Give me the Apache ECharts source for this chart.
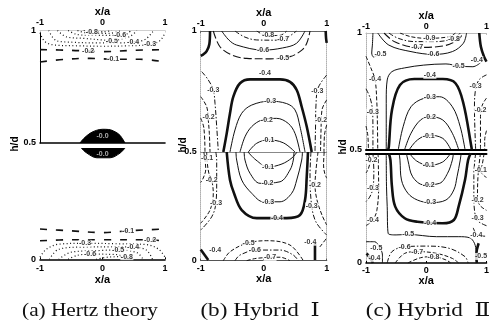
<!DOCTYPE html>
<html>
<head>
<meta charset="utf-8">
<script src="https://cdn.jsdelivr.net/npm/echarts@6/dist/echarts.min.js"></script>
<style>
  html, body { margin: 0; padding: 0; background: #fff; }
  #chart { width: 492px; height: 331px; }
</style>
</head>
<body>
<div id="chart"></div>
<script>
// Pressure contours, each entry: [level, [[x/a, h/d], ...], [label anchors [x/a, h/d]]]
// Upper body (h/d 0.5..1) and lower body (h/d 0..0.5) are kept apart.

const captions = ['(a) Hertz theory', '(b) Hybrid  \u2160', '(c) Hybrid  \u2161'];

const hertzUpper = [
  [-0.1, [[-1, 0.86], [-0.6, 0.872], [-0.2, 0.876], [0.2, 0.872], [0.6, 0.872], [1, 0.86]], [[0.17, 0.871]]],
  [-0.2, [[-1, 0.915], [-0.5, 0.912], [0, 0.906], [0.5, 0.912], [1, 0.915]], [[-0.23, 0.908]]],
  [-0.3, [[-1, 0.99], [-0.92, 0.95], [-0.75, 0.935], [-0.4, 0.932], [0, 0.93], [0.4, 0.932], [0.76, 0.938], [0.92, 0.955], [1, 0.99]], [[0.76, 0.938]]],
  [-0.4, [[-0.86, 1], [-0.74, 0.955], [-0.5, 0.948], [-0.1, 0.945], [0.3, 0.945], [0.49, 0.95], [0.68, 0.96], [0.82, 1]], [[0.49, 0.95]]],
  [-0.5, [[-0.72, 1], [-0.58, 0.972], [-0.3, 0.965], [0, 0.958], [0.15, 0.955], [0.3, 0.962], [0.45, 0.975], [0.55, 1]], [[0.15, 0.955]]],
  [-0.6, [[-0.55, 1], [-0.4, 0.982], [-0.1, 0.978], [0.28, 0.978], [0.4, 0.986], [0.45, 1]], [[0.28, 0.978]]],
  [-0.7, [[-0.4, 1], [-0.25, 0.989], [0.1, 0.987], [0.3, 1]], []],
  [-0.8, [[-0.3, 1], [-0.17, 0.994], [0, 0.994], [0.15, 1]], [[-0.17, 0.993]]]
];
const hertzLower = [
  [-0.1, [[-1, 0.136], [-0.5, 0.128], [0, 0.12], [0.41, 0.128], [1, 0.136]], [[0.41, 0.128]]],
  [-0.2, [[-1, 0.083], [-0.5, 0.088], [0, 0.088], [0.76, 0.088], [1, 0.08]], [[0.76, 0.088]]],
  [-0.3, [[-1, 0.01], [-0.9, 0.045], [-0.7, 0.068], [-0.28, 0.072], [0.2, 0.07], [0.7, 0.066], [0.9, 0.045], [1, 0.01]], [[-0.28, 0.072]]],
  [-0.4, [[-0.85, 0], [-0.7, 0.045], [-0.3, 0.055], [0.2, 0.056], [0.49, 0.054], [0.7, 0.042], [0.8, 0]], [[0.49, 0.054]]],
  [-0.5, [[-0.7, 0], [-0.5, 0.032], [0, 0.04], [0.25, 0.042], [0.55, 0.03], [0.65, 0]], [[0.25, 0.042]]],
  [-0.6, [[-0.55, 0], [-0.4, 0.018], [-0.2, 0.023], [0.2, 0.022], [0.45, 0]], [[-0.2, 0.023]]],
  [-0.8, [[-0.1, 0], [0.1, 0.01], [0.39, 0.012], [0.5, 0]], [[0.39, 0.012]]]
];
// The zero-pressure zone right at the contact, filled
const hertzBlobUpper = [-0.0, [[-0.36, 0.5], [-0.3, 0.52], [-0.2, 0.543], [-0.1, 0.556], [0, 0.561], [0.1, 0.56], [0.2, 0.55], [0.28, 0.534], [0.36, 0.5]], [[0, 0.532]]];
const hertzBlobLower = [-0.0, [[-0.34, 0.5], [-0.25, 0.477], [-0.09, 0.456], [0.12, 0.456], [0.28, 0.477], [0.36, 0.5]], [[0, 0.472]]];

const hybrid1Upper = [
  [-0.8, [[-0.11, 1], [0.05, 0.981], [0.26, 0.982], [0.365, 1]], [[0.07, 0.982]]],
  [-0.7, [[-0.456, 1], [-0.3, 0.975], [-0.11, 0.963], [0.2, 0.962], [0.365, 0.972], [0.52, 1]], [[0.31, 0.968]]],
  [-0.6, [[-0.667, 1], [-0.55, 0.962], [-0.43, 0.942], [-0.006, 0.921], [0.3, 0.93], [0.52, 0.949], [0.656, 1]], [[-0.01, 0.921]]],
  [-0.5, [[-0.8, 1], [-0.694, 0.935], [-0.5, 0.9], [-0.27, 0.887], [0.1, 0.885], [0.417, 0.894], [0.6, 0.92], [0.683, 0.949], [0.735, 1]], [[0.31, 0.89]]],
  [-0.4, [[-0.852, 1], [-0.863, 0.945], [-0.905, 0.917], [-0.96, 0.903], [-1, 0.898]], []],
  [-0.4, [[0.984, 1], [0.99, 0.97], [1, 0.951]], []],
  [-0.4, [[-0.641, 0.5], [-0.587, 0.577], [-0.535, 0.66], [-0.482, 0.729], [-0.376, 0.784], [-0.217, 0.8], [0.259, 0.8], [0.417, 0.79], [0.524, 0.756], [0.603, 0.687], [0.683, 0.605], [0.762, 0.5]], [[0.02, 0.826]]],
  [-0.3, [[-0.535, 0.5], [-0.456, 0.591], [-0.349, 0.66], [-0.19, 0.694], [0.1, 0.71], [0.365, 0.7], [0.497, 0.674], [0.576, 0.605], [0.656, 0.5]], [[0.1, 0.71]]],
  [-0.2, [[-0.376, 0.5], [-0.297, 0.563], [-0.19, 0.605], [-0.032, 0.632], [0.206, 0.639], [0.39, 0.618], [0.497, 0.577], [0.576, 0.5]], [[0.05, 0.634]]],
  [-0.1, [[-0.244, 0.5], [-0.111, 0.536], [0.073, 0.55], [0.311, 0.538], [0.497, 0.5]], [[0.073, 0.55]]],
  [-0.3, [[-0.984, 0.832], [-0.88, 0.798], [-0.8, 0.756], [-0.773, 0.701], [-0.746, 0.605], [-0.72, 0.5]], [[-0.8, 0.756]]],
  [-0.2, [[-1, 0.729], [-0.905, 0.687], [-0.88, 0.632], [-0.863, 0.577], [-0.852, 0.5]], [[-0.875, 0.645]]],
  [-0.1, [[-1, 0.64], [-0.95, 0.6], [-0.932, 0.5]], []],
  [-0.3, [[1, 0.818], [0.862, 0.764], [0.83, 0.694], [0.822, 0.591], [0.814, 0.5]], [[0.85, 0.75]]],
  [-0.2, [[1, 0.715], [0.925, 0.674], [0.91, 0.591], [0.902, 0.5]], [[0.91, 0.63]]],
  [-0.1, [[1, 0.612], [0.965, 0.57], [0.957, 0.5]], []]
];
const hybrid1Lower = [
  [-0.4, [[-0.587, 0.5], [-0.535, 0.371], [-0.471, 0.31], [-0.349, 0.233], [-0.111, 0.196], [0.365, 0.196], [0.576, 0.21], [0.656, 0.279], [0.683, 0.386], [0.703, 0.5]], [[0.21, 0.196]]],
  [-0.3, [[-0.44, 0.5], [-0.429, 0.463], [-0.349, 0.371], [-0.19, 0.31], [-0.006, 0.271], [0.259, 0.271], [0.444, 0.31], [0.524, 0.371], [0.603, 0.463], [0.615, 0.5]], [[0.07, 0.272]]],
  [-0.2, [[-0.31, 0.5], [-0.297, 0.463], [-0.217, 0.402], [-0.059, 0.356], [0.259, 0.363], [0.417, 0.417], [0.47, 0.463], [0.48, 0.5]], [[0.06, 0.355]]],
  [-0.1, [[-0.249, 0.5], [-0.122, 0.463], [0.068, 0.431], [0.29, 0.445], [0.449, 0.473], [0.529, 0.5]], [[0.07, 0.432]]],
  [-0.1, [[-0.95, 0.5], [-0.93, 0.46], [-0.92, 0.42], [-0.96, 0.38], [-1, 0.36]], [[-0.9, 0.47]]],
  [-0.2, [[-0.905, 0.5], [-0.9, 0.463], [-0.87, 0.402], [-0.825, 0.371], [-0.8, 0.31], [-0.852, 0.233], [-1, 0.172]], [[-0.825, 0.371]]],
  [-0.3, [[-0.76, 0.5], [-0.746, 0.463], [-0.746, 0.371], [-0.757, 0.267], [-0.825, 0.202], [-1, 0.141]], [[-0.757, 0.267]]],
  [-0.4, [[-1, 0.052], [-0.88, 0.003]], [[-0.77, 0.05]]],
  [-0.1, [[0.96, 0.5], [0.95, 0.44], [0.97, 0.4], [1, 0.38]], []],
  [-0.2, [[0.862, 0.5], [0.83, 0.417], [0.814, 0.348], [0.846, 0.279], [0.925, 0.21], [1, 0.164]], [[0.814, 0.348]]],
  [-0.3, [[0.75, 0.5], [0.735, 0.394], [0.762, 0.252], [0.83, 0.178], [1, 0.118]], [[0.762, 0.252]]],
  [-0.4, [[0.814, 0.081], [0.814, 0.003]], [[0.74, 0.085]]],
  [-0.4, [[0.89, 0.063], [1, 0.104]], []],
  [-0.5, [[-0.641, 0], [-0.535, 0.041], [-0.27, 0.08], [0.048, 0.092], [0.417, 0.072], [0.629, 0]], [[-0.24, 0.083]]],
  [-0.6, [[-0.456, 0], [-0.376, 0.026], [-0.111, 0.049], [0.259, 0.049], [0.47, 0.026], [0.549, 0]], [[-0.14, 0.048]]],
  [-0.7, [[-0.27, 0], [-0.111, 0.011], [0.259, 0.016], [0.417, 0]], [[0.1, 0.015]]]
];

const hybrid2Upper = [
  [-0.9, [[-0.436, 1], [-0.253, 0.984], [0.011, 0.977], [0.379, 0.984], [0.485, 1]], [[0.05, 0.977]]],
  [-0.8, [[-0.621, 1], [-0.463, 0.977], [-0.199, 0.963], [0.169, 0.963], [0.458, 0.977], [0.564, 1]], [[0.46, 0.975]]],
  [-0.7, [[-0.7, 1], [-0.515, 0.961], [-0.147, 0.938], [0.275, 0.944], [0.537, 0.973], [0.61, 1]], [[-0.15, 0.938]]],
  [-0.6, [[-0.805, 1], [-0.621, 0.948], [-0.253, 0.92], [0.117, 0.908], [0.433, 0.92], [0.616, 0.956], [0.669, 1]], [[0.117, 0.908]]],
  [-0.5, [[-0.664, 0.5], [-0.664, 0.712], [-0.648, 0.798], [-0.569, 0.834], [-0.357, 0.85], [-0.041, 0.862], [0.327, 0.867], [0.537, 0.858], [0.774, 0.855], [0.9, 0.872]], [[0.537, 0.858]]],
  [-0.5, [[-0.885, 1], [-0.894, 0.948], [-0.905, 0.914], [-0.874, 0.897], [-0.81, 0.905]], [[-0.76, 0.91]]],
  [-0.4, [[-1, 0.9], [-0.92, 0.85], [-0.85, 0.8], [-0.82, 0.7], [-0.81, 0.6], [-0.805, 0.5]], [[-0.85, 0.8]]],
  [-0.3, [[-1, 0.76], [-0.93, 0.72], [-0.89, 0.66], [-0.885, 0.58], [-0.885, 0.5]], [[-0.888, 0.66]]],
  [-0.2, [[-1, 0.6], [-0.97, 0.56], [-0.96, 0.5]], []],
  [-0.4, [[0.88, 1], [0.907, 0.941], [0.959, 0.898], [1, 0.877]], [[0.84, 0.885]]],
  [-0.3, [[1, 0.82], [0.88, 0.8], [0.82, 0.76], [0.8, 0.68], [0.82, 0.5]], [[0.82, 0.77]]],
  [-0.2, [[1, 0.72], [0.93, 0.69], [0.9, 0.64], [0.9, 0.5]], [[0.9, 0.67]]],
  [-0.1, [[1, 0.58], [0.97, 0.54], [0.97, 0.5]], []],
  [-0.4, [[-0.63, 0.5], [-0.621, 0.511], [-0.569, 0.669], [-0.436, 0.776], [-0.199, 0.802], [0.275, 0.802], [0.485, 0.784], [0.616, 0.698], [0.749, 0.511], [0.755, 0.5]], [[0.06, 0.818]]],
  [-0.3, [[-0.463, 0.5], [-0.384, 0.597], [-0.253, 0.683], [-0.041, 0.719], [0.221, 0.726], [0.433, 0.683], [0.564, 0.597], [0.643, 0.5]], [[0.06, 0.724]]],
  [-0.2, [[-0.357, 0.5], [-0.253, 0.569], [-0.095, 0.626], [0.063, 0.64], [0.275, 0.626], [0.433, 0.569], [0.537, 0.5]], [[0.06, 0.64]]],
  [-0.1, [[-0.278, 0.5], [-0.147, 0.54], [0.038, 0.561], [0.275, 0.547], [0.406, 0.5]], [[0.04, 0.558]]]
];
const hybrid2Lower = [
  [-0.4, [[-0.621, 0.5], [-0.594, 0.469], [-0.569, 0.348], [-0.515, 0.257], [-0.357, 0.204], [-0.147, 0.188], [0.275, 0.181], [0.458, 0.196], [0.537, 0.257], [0.643, 0.378], [0.695, 0.469], [0.738, 0.5]], [[0.063, 0.184]]],
  [-0.3, [[-0.45, 0.5], [-0.436, 0.469], [-0.411, 0.378], [-0.305, 0.318], [-0.147, 0.287], [0.063, 0.275], [0.327, 0.287], [0.458, 0.333], [0.511, 0.393], [0.564, 0.469], [0.58, 0.5]], [[0.063, 0.276]]],
  [-0.2, [[-0.33, 0.5], [-0.305, 0.469], [-0.226, 0.393], [-0.041, 0.356], [0.221, 0.363], [0.354, 0.409], [0.433, 0.469], [0.45, 0.5]], [[0.04, 0.357]]],
  [-0.1, [[-0.278, 0.5], [-0.16, 0.465], [0.04, 0.445], [0.27, 0.46], [0.406, 0.5]], [[0.04, 0.445]]],
  [-0.5, [[-0.664, 0.5], [-0.66, 0.35], [-0.648, 0.257], [-0.632, 0.135], [-0.5, 0.128], [-0.3, 0.13], [0.17, 0.12], [0.54, 0.12], [0.72, 0.115], [0.8, 0.09], [0.83, 0.05], [0.84, 0]], [[-0.3, 0.13], [0.91, 0.03]]],
  [-0.5, [[0.87, 0.09], [0.84, 0.06], [0.83, 0.03], [0.84, 0]], []],
  [-0.2, [[-0.97, 0.5], [-0.93, 0.47], [-0.96, 0.43], [-1, 0.41]], [[-0.91, 0.469]]],
  [-0.3, [[-0.885, 0.5], [-0.87, 0.42], [-0.885, 0.34], [-0.94, 0.3], [-1, 0.28]], [[-0.885, 0.34]]],
  [-0.4, [[-0.8, 0.5], [-0.79, 0.35], [-0.82, 0.24], [-0.885, 0.196], [-1, 0.17]], [[-0.885, 0.196]]],
  [-0.5, [[-1, 0.097], [-0.858, 0.097], [-0.779, 0.074], [-0.727, 0.036], [-0.727, 0]], [[-0.83, 0.07]]],
  [-0.4, [[-0.99, 0.044], [-0.91, 0.014], [-0.885, 0]], [[-0.86, 0.021]]],
  [-0.1, [[0.96, 0.5], [0.93, 0.45], [0.9, 0.42], [0.95, 0.4], [1, 0.39]], [[0.905, 0.424]]],
  [-0.2, [[0.9, 0.5], [0.86, 0.4], [0.85, 0.29], [0.9, 0.26], [1, 0.24]], [[0.853, 0.287]]],
  [-0.3, [[0.82, 0.5], [0.79, 0.4], [0.79, 0.3], [0.83, 0.2], [0.92, 0.18], [1, 0.17]], [[0.853, 0.204]]],
  [-0.4, [[0.78, 0.16], [0.85, 0.128], [1, 0.122]], [[0.83, 0.128]]],
  [-0.6, [[-0.648, 0], [-0.569, 0.052], [-0.357, 0.074], [0.011, 0.077], [0.379, 0.067], [0.643, 0.029], [0.695, 0]], [[-0.36, 0.074]]],
  [-0.7, [[-0.515, 0], [-0.357, 0.044], [-0.147, 0.052], [0.169, 0.044], [0.433, 0.021], [0.537, 0]], [[-0.15, 0.052]]],
  [-0.8, [[-0.305, 0], [-0.095, 0.024], [0.117, 0.029], [0.327, 0.014], [0.406, 0]], [[0.12, 0.028]]]
];

// ---------- drawing styles ----------
const LOOK = {
  bold:     { width: 2.6, type: 'solid' },
  solid:    { width: 1, type: 'solid' },
  dash:     { width: 1, type: [4, 2] },
  longdash: { width: 1.1, type: [8, 3] },
  dashdot:  { width: 1, type: [5, 2, 1.5, 2] },
  dot:      { width: 1.2, type: [1, 2.5] },
  sparse:   { width: 1.6, type: [7, 9] }
};
const hertzUpperLook = ['sparse', 'sparse', 'dot', 'dot', 'dot', 'dot', 'dot', 'dot'];
const hertzLowerLook = ['sparse', 'sparse', 'dot', 'dot', 'dot', 'dot', 'dot'];
const hybrid1UpperLook = ['dash', 'dashdot', 'solid', 'longdash', 'bold', 'bold', 'bold', 'solid', 'solid', 'solid',
  'dashdot', 'dash', 'dash', 'dashdot', 'dash', 'dash'];
const hybrid1LowerLook = ['bold', 'solid', 'solid', 'solid', 'dash', 'dash', 'dashdot', 'bold', 'dash', 'dash',
  'dashdot', 'bold', 'dash', 'dash', 'dashdot', 'dash'];
const hybrid2UpperLook = ['dash', 'dashdot', 'longdash', 'solid', 'solid', 'solid', 'dash', 'dashdot', 'dash', 'bold',
  'dashdot', 'dash', 'dash', 'bold', 'solid', 'solid', 'solid'];
const hybrid2LowerLook = ['bold', 'solid', 'solid', 'solid', 'solid', 'bold', 'dash', 'dashdot', 'dash', 'solid', 'bold',
  'dash', 'dash', 'dashdot', 'dash', 'dashdot', 'dash', 'dash'];

// plot boxes: upper and lower body of each panel
const boxes = [
  { left: 40, top: 30.5, width: 125, height: 112.5 },
  { left: 40, top: 148, width: 125, height: 111.3 },
  { left: 200.7, top: 31, width: 126, height: 121 },
  { left: 200.7, top: 152, width: 126, height: 108.7 },
  { left: 366, top: 33, width: 126.6, height: 116.3 },
  { left: 366, top: 153.3, width: 126.6, height: 109.7 }
];
// frame lines: outer x edge, edge at h/d = 0.5, left and right sides
const frames = [
  { edge: ['#cfcfcf', 1], inner: ['#000', 1.6], side: ['#000', 1, 'solid'], right: null, nameGap: 11, margin: 3 },
  { edge: ['#000', 1.6], inner: null, side: null, right: null, nameGap: 14, margin: 5 },
  { edge: ['#666', 1], inner: ['#888', 1], side: ['#b0b0b0', 1, 'dotted'], right: ['#b0b0b0', 1, 'dotted'], nameGap: 12, margin: 3 },
  { edge: ['#555', 1.2], inner: null, side: ['#b0b0b0', 1, 'dotted'], right: ['#b0b0b0', 1, 'dotted'], nameGap: 10, margin: 3 },
  { edge: ['#bbb', 1], inner: ['#000', 2], side: ['#b0b0b0', 1, 'dotted'], right: null, nameGap: 9, margin: 2 },
  { edge: ['#000', 1.6], inner: ['#000', 2], side: ['#b0b0b0', 1, 'dotted'], right: null, nameGap: 8, margin: 3 }
];

const subplots = [
  { contours: hertzUpper, looks: hertzUpperLook, upper: true, blob: hertzBlobUpper },
  { contours: hertzLower, looks: hertzLowerLook, upper: false, blob: hertzBlobLower },
  { contours: hybrid1Upper, looks: hybrid1UpperLook, upper: true },
  { contours: hybrid1Lower, looks: hybrid1LowerLook, upper: false },
  { contours: hybrid2Upper, looks: hybrid2UpperLook, upper: true },
  { contours: hybrid2Lower, looks: hybrid2LowerLook, upper: false }
];

const SANS = '"Liberation Sans", Arial, sans-serif';
const fmtLevel = v => ((v < 0 || Object.is(v, -0)) ? '-' : '') + Math.abs(v).toFixed(1);
const lineOf = spec => spec
  ? { show: true, onZero: false, lineStyle: { color: spec[0], width: spec[1], type: spec[2] || 'solid' } }
  : { show: false, onZero: false };
const HIDDEN = { color: 'rgba(0,0,0,0)' };

const grid = [], xAxis = [], yAxis = [], series = [];

subplots.forEach((sp, g) => {
  const f = frames[g];
  const up = sp.upper;
  grid.push(Object.assign({ containLabel: false }, boxes[g]));

  xAxis.push({
    gridIndex: g, type: 'value', position: up ? 'top' : 'bottom', min: -1, max: 1, interval: 1,
    axisLine: lineOf(f.edge),
    axisTick: { show: true, inside: true, length: 2, lineStyle: { color: f.edge[0] } },
    axisLabel: { margin: f.margin, fontSize: 9, fontWeight: 'bold', color: '#000', fontFamily: SANS },
    splitLine: { show: false },
    name: 'x/a', nameLocation: 'middle', nameGap: f.nameGap,
    nameTextStyle: { fontSize: 11, fontWeight: 'bold', color: '#000', fontFamily: SANS }
  });
  xAxis.push({
    gridIndex: g, type: 'value', position: up ? 'bottom' : 'top', min: -1, max: 1,
    show: !!f.inner, axisLine: lineOf(f.inner), axisTick: { show: false },
    axisLabel: { show: false }, splitLine: { show: false }
  });

  yAxis.push({
    gridIndex: g, type: 'value', position: 'left', min: up ? 0.5 : 0, max: up ? 1 : 0.5, interval: 0.5,
    axisLine: lineOf(f.side), axisTick: { show: false }, splitLine: { show: false },
    axisLabel: {
      margin: 4, fontSize: 9, fontWeight: 'bold', color: '#000', fontFamily: SANS,
      showMinLabel: true, showMaxLabel: true,
      formatter: v => up ? String(v) : (v === 0 ? '0' : '')
    }
  });
  yAxis.push({
    gridIndex: g, type: 'value', position: 'right', min: up ? 0.5 : 0, max: up ? 1 : 0.5,
    show: !!f.right, axisLine: lineOf(f.right), axisTick: { show: false },
    axisLabel: { show: false }, splitLine: { show: false }
  });

  const labels = [];
  sp.contours.forEach((c, i) => {
    const look = LOOK[sp.looks[i]];
    series.push({
      type: 'line', xAxisIndex: 2 * g, yAxisIndex: 2 * g, data: c[1],
      smooth: 0.35, symbol: 'none', silent: true, z: 2,
      lineStyle: { color: '#111', width: look.width, type: look.type }
    });
    c[2].forEach(p => labels.push([p[0], p[1], fmtLevel(c[0])]));
  });

  if (sp.blob) {
    series.push({
      type: 'line', xAxisIndex: 2 * g, yAxisIndex: 2 * g, data: sp.blob[1],
      smooth: 0.35, symbol: 'none', silent: true, z: 3,
      lineStyle: { color: '#000', width: 1 },
      areaStyle: { color: '#000', opacity: 1, origin: up ? 'start' : 'end' }
    });
    series.push({
      type: 'scatter', xAxisIndex: 2 * g, yAxisIndex: 2 * g, silent: true, z: 6,
      symbolSize: 1, itemStyle: HIDDEN,
      data: sp.blob[2].map(p => [p[0], p[1], fmtLevel(sp.blob[0])]),
      label: { show: true, position: 'inside', formatter: p => p.data[2],
        fontSize: 7, fontWeight: 'bold', color: '#d8d8d8', fontFamily: SANS }
    });
  }

  series.push({
    type: 'scatter', xAxisIndex: 2 * g, yAxisIndex: 2 * g, silent: true, z: 5,
    symbolSize: 1, itemStyle: HIDDEN, data: labels,
    label: { show: true, position: 'inside', formatter: p => p.data[2],
      fontSize: 7, fontWeight: 'bold', color: '#000', fontFamily: SANS,
      backgroundColor: '#fff', padding: [0, 0.5] }
  });
});

// vertical h/d titles and panel captions
const graphic = [
  [15, 144], [183, 145], [343, 147]
].map(p => ({
  type: 'text', x: p[0], y: p[1], rotation: Math.PI / 2, z: 10,
  style: { text: 'h/d', font: 'bold 10px ' + SANS, fill: '#000', align: 'center', verticalAlign: 'middle' }
})).concat([[90, 1.12], [260, 1.22], [428, 1.22]].map((c, i) => ({
  type: 'text', x: c[0], y: 311, z: 10, scaleX: c[1],
  style: { text: captions[i], font: '19px "Liberation Serif", "DejaVu Serif", serif', fill: '#111',
    align: 'center', verticalAlign: 'middle' }
})));

const chart = echarts.init(document.getElementById('chart'));
chart.setOption({
  animation: false,
  backgroundColor: '#fff',
  grid, xAxis, yAxis, series, graphic
});
</script>
</body>
</html>
